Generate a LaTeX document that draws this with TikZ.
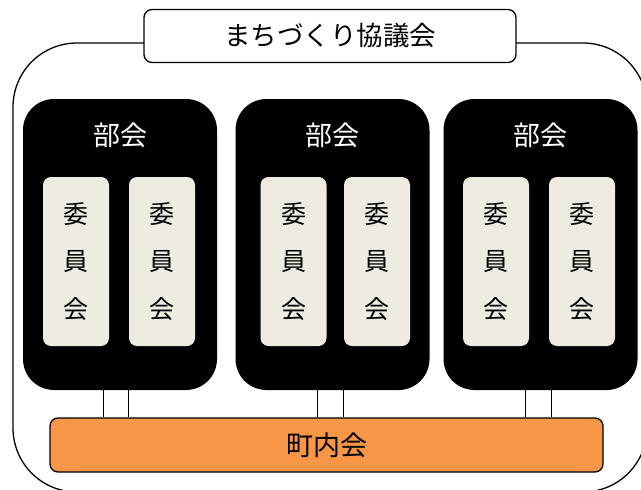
\documentclass[tikz,border=0pt]{standalone}
\usepackage{fontspec}
\newfontfamily\jp{Noto Sans CJK JP}

\begin{document}
\begin{tikzpicture}[x=1pt,y=-1pt,
    frame/.style={draw,line width=1.3pt,rounded corners=64pt,inner sep=0pt},
    titlebox/.style={draw,fill=white,line width=1.3pt,rounded corners=8pt,
      minimum width=372pt,minimum height=53pt,inner sep=0pt},
    bukai/.style={fill=black,rounded corners=31pt,minimum width=194pt,
      minimum height=291pt,inner sep=0pt},
    iinkai/.style={fill=iinkaicol,rounded corners=8pt,minimum width=66pt,
      minimum height=169pt,inner sep=0pt,align=center,
      font=\jp\fontsize{25}{47.5}\selectfont},
    chokaibox/.style={draw,fill=chokaicol,line width=1.3pt,rounded corners=8pt,
      minimum width=553pt,minimum height=54pt,inner sep=0pt}]

  \definecolor{iinkaicol}{HTML}{EEECE1}
  \definecolor{chokaicol}{HTML}{F79646}

  \clip (0,0) rectangle (641,490);

  % outer frame and title
  \node[frame,minimum width=634pt,minimum height=449pt] (frame) at (330,267.5) {};
  \node[titlebox,font=\jp\fontsize{26.5}{26.5}\selectfont] (title) at (330,36) {まちづくり協議会};

  % bukai
  \begin{scope}[every node/.style={bukai}]
    \node (bukai1) at (120,244.5) {};
    \node (bukai2) at (332.5,244.5) {};
    \node (bukai3) at (540.5,244.5) {};
  \end{scope}

  \begin{scope}[every node/.style={text=white,font=\jp\fontsize{27}{27}\selectfont}]
    \node (bl1) at (120,135) {部会};
    \node (bl2) at (332.5,135) {部会};
    \node (bl3) at (540.5,135) {部会};
  \end{scope}

  % iinkai
  \begin{scope}[every node/.style={iinkai}]
    \node (i1a) at (76,261.5) {委\\員\\会};
    \node (i1b) at (162,261.5) {委\\員\\会};
    \node (i2a) at (293.5,261.5) {委\\員\\会};
    \node (i2b) at (377,261.5) {委\\員\\会};
    \node (i3a) at (496,261.5) {委\\員\\会};
    \node (i3b) at (582,261.5) {委\\員\\会};
  \end{scope}

  % chokai
  \node[chokaibox,font=\jp\fontsize{27}{27}\selectfont] (chokai) at (326.5,445) {町内会};

  \begin{scope}[line width=1pt]
    \draw ([xshift=-17pt]bukai1.south) -- ([xshift=-17pt]bukai1.south |- chokai.north);
    \draw ([xshift=8pt]bukai1.south) -- ([xshift=8pt]bukai1.south |- chokai.north);
    \draw ([xshift=-15.5pt]bukai2.south) -- ([xshift=-15.5pt]bukai2.south |- chokai.north);
    \draw ([xshift=10.5pt]bukai2.south) -- ([xshift=10.5pt]bukai2.south |- chokai.north);
    \draw ([xshift=-15.5pt]bukai3.south) -- ([xshift=-15.5pt]bukai3.south |- chokai.north);
    \draw ([xshift=10.5pt]bukai3.south) -- ([xshift=10.5pt]bukai3.south |- chokai.north);
  \end{scope}

\end{tikzpicture}
\end{document}
